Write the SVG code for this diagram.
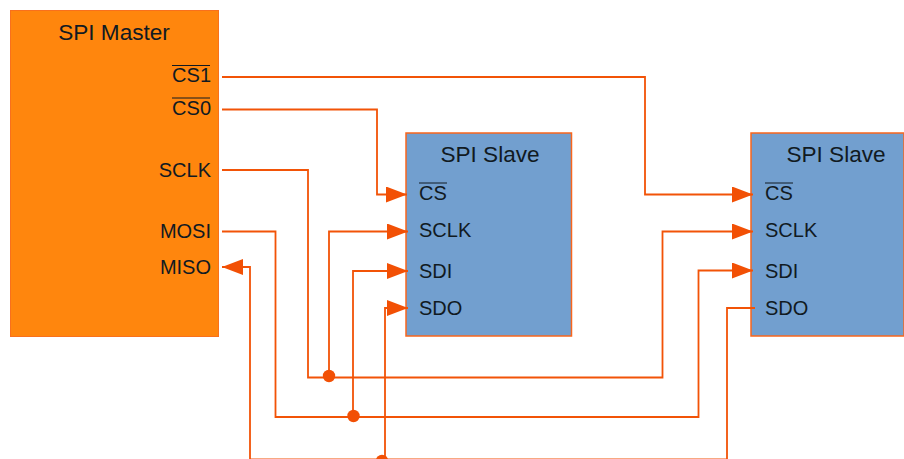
<svg xmlns="http://www.w3.org/2000/svg" width="904" height="459" viewBox="0 0 904 459">
<style>
text{font-family:"Liberation Sans",Arial,sans-serif;font-size:20px;fill:#111a22}
text.t{font-size:22.600px}
.m{fill:#ff860d;stroke:#f9701c;stroke-width:1}
.s{fill:#729fcf;stroke:#f9661c;stroke-width:1.500}
.w{fill:none;stroke:#f25307;stroke-width:1.800}
.o{stroke:#111a22;stroke-width:1}
.a{fill:#f25005}
</style>
<defs><marker id="arr" markerUnits="userSpaceOnUse" markerWidth="21" markerHeight="16" refX="21" refY="8" orient="auto"><path d="M0 0L21 8L0 16Z" class="a"/></marker></defs>
<rect width="904" height="459" fill="#fff"/>
<g id="master">
<rect class="m" x="10.500" y="10.500" width="208" height="326"/>
<text class="t" x="114" y="40" text-anchor="middle">SPI Master</text>
<text x="211" y="82" text-anchor="end">CS1</text><line class="o" x1="172" x2="210" y1="65.500" y2="65.500"/>
<text x="211" y="115" text-anchor="end">CS0</text><line class="o" x1="172" x2="210" y1="98" y2="98"/>
<text x="211" y="177" text-anchor="end">SCLK</text>
<text x="211" y="238" text-anchor="end">MOSI</text>
<text x="211" y="274" text-anchor="end">MISO</text>
</g>
<g id="slave0">
<rect class="s" x="406" y="133" width="165.500" height="203"/>
<text class="t" x="490" y="162" text-anchor="middle">SPI Slave</text>
<text x="419" y="200">CS</text><line class="o" x1="419" x2="447" y1="183" y2="183"/>
<text x="419" y="237">SCLK</text>
<text x="419" y="278">SDI</text>
<text x="419" y="315">SDO</text>
</g>
<g id="slave1">
<rect class="s" x="751" y="133" width="153" height="203"/>
<text class="t" x="836" y="162" text-anchor="middle">SPI Slave</text>
<text x="765" y="200">CS</text><line class="o" x1="765" x2="793" y1="183" y2="183"/>
<text x="765" y="237">SCLK</text>
<text x="765" y="278">SDI</text>
<text x="765" y="315">SDO</text>
</g>
<g id="connectors">
<path class="w" marker-end="url(#arr)" d="M222 77H645V194.500H753"/>
<path class="w" marker-end="url(#arr)" d="M222 109.500H377V194.500H407"/>
<path class="w" marker-end="url(#arr)" d="M222 170H308V377.500H662.500V231.500H753"/>
<path class="w" marker-end="url(#arr)" d="M222 231.500H275.500V417H698.500V270.500H753"/>
<path class="w" marker-end="url(#arr)" d="M329 377V231.500H408"/>
<path class="w" marker-end="url(#arr)" d="M353 416V271H408"/>
<path class="w" marker-end="url(#arr)" d="M385 458V308H408"/>
<path class="w" marker-end="url(#arr)" d="M755 308H727V459.300H250V267H222"/>
<circle class="a" cx="329" cy="376" r="6.200"/>
<circle class="a" cx="353.500" cy="416" r="6.200"/>
<circle class="a" cx="382" cy="461" r="6.200"/>
</g>
</svg>
